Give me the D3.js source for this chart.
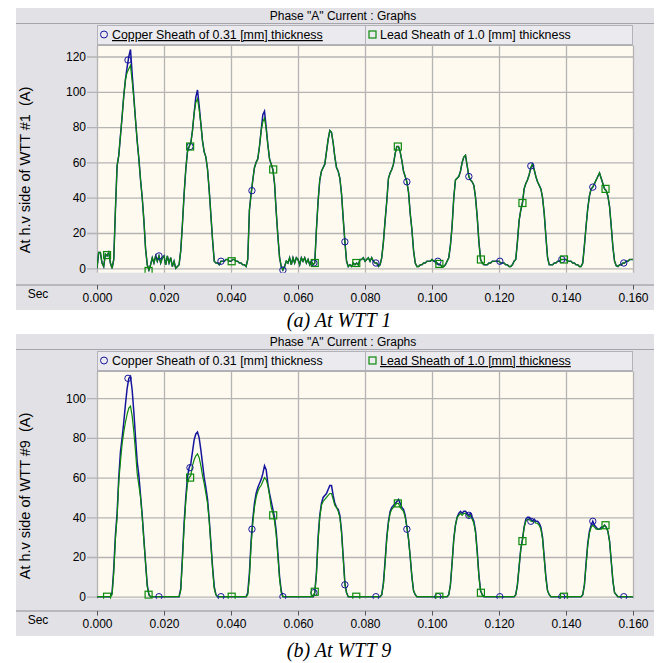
<!DOCTYPE html>
<html>
<head>
<meta charset="utf-8">
<script src="https://cdn.jsdelivr.net/npm/d3@7"></script>
<style>
  body { margin: 0; background: #fff; }
  svg { display: block; font-family: "Liberation Sans", Arial, sans-serif; }
</style>
</head>
<body>
<svg id="chart" width="659" height="663"></svg>
<script>
// recorder samples one point every 0.5 ms, from 0 to 0.160 s (321 points per trace)
const sampleStep = 0.0005;
const xTicks = [0, 0.02, 0.04, 0.06, 0.08, 0.10, 0.12, 0.14, 0.16];
const yTicksA = [0, 20, 40, 60, 80, 100, 120];
const yTicksB = [0, 20, 40, 60, 80, 100];
const seriesNames = ['Copper Sheath of 0.31 [mm] thickness', 'Lead Sheath of 1.0 [mm] thickness'];
const chartTitle = 'Phase "A" Current : Graphs';

// (a) at WTT 1, current in A
const copperA = [
  0, 9, 9, 3, 1, 8, 7, 9, 3, 0,
  5, 33, 58, 64, 75, 86, 98, 107, 114, 120, 124, 110, 97, 84, 72, 62, 50, 40, 27, 11, 2, -1,
  2, 6, 3, 7, 4, 7, 3, 6, 7, 2, 7, 3, 6, 1, 4, 0, 1,
  2, 10, 25, 42, 56, 66, 69, 71, 78, 88, 97, 101, 92, 82, 72, 66, 63, 56, 44, 30, 16, 4, 3,
  3, 2, 4, 4, 4, 5, 5, 4, 4, 5, 5, 4, 4, 3, 3, 2, 2, 1,
  5, 33, 42, 50, 57, 60, 62, 69, 78, 87, 89, 80, 70, 62, 59, 56, 48, 32, 18, 6, 1, -1,
  1, 4, 3, 6, 2, 6, 3, 6, 5, 2, 6, 4, 6, 3, 5, 2, 4, 2,
  3, 22, 38, 50, 55, 57, 59, 66, 73, 78, 77, 71, 63, 57, 55, 51, 42, 28, 15, 4, 1,
  2, 1, 3, 2, 3, 2, 5, 5, 6, 4, 5, 6, 4, 6, 4, 3, 3, 1, 2,
  6, 15, 27, 38, 51, 54, 56, 59, 65, 69, 69, 66, 61, 55, 52, 49, 43, 31, 22, 10, 3, 1,
  1, 2, 2, 3, 3, 4, 4, 4, 5, 4, 4, 3, 2, 2, 1, 1, 2, 4,
  6, 13, 24, 40, 50, 51, 52, 55, 60, 63, 64, 58, 52, 50, 49, 47, 40, 29, 15, 5, 3, 2,
  2, 2, 3, 3, 4, 4, 4, 4, 4, 3, 3, 3, 2, 2, 1, 1, 2, 4,
  5, 15, 27, 33, 37, 45, 48, 50, 53, 57, 59, 56, 52, 49, 47, 45, 40, 31, 18, 6, 2,
  2, 2, 3, 3, 4, 4, 5, 5, 5, 5, 4, 4, 4, 3, 3, 2, 2, 1, 1,
  3, 13, 24, 34, 41, 45, 46, 48, 50, 52, 54, 51, 48, 45, 44, 41, 35, 24, 12, 4, 1.5,
  1, 2, 2, 3, 3, 4, 4, 5, 5, 5
];
const leadA = [
  0, 9, 9, 3, 1, 8, 7, 9, 3, 0,
  5, 33, 58, 64, 75, 86, 98, 107, 111, 113, 115, 106, 96, 84, 72, 62, 50, 40, 27, 11, 2, -1,
  2, 6, 3, 7, 4, 7, 3, 6, 7, 2, 7, 3, 6, 1, 4, 0, 1,
  2, 10, 25, 42, 56, 66, 69, 71, 78, 88, 94, 96, 90, 82, 72, 66, 63, 56, 44, 30, 16, 4, 3,
  3, 2, 4, 4, 4, 5, 5, 4, 4, 5, 5, 4, 4, 3, 3, 2, 2, 1,
  5, 33, 42, 50, 57, 60, 62, 69, 78, 83, 85, 79, 70, 62, 59, 56, 48, 32, 18, 6, 1, -1,
  1, 4, 3, 6, 2, 6, 3, 6, 5, 2, 6, 4, 6, 3, 5, 2, 4, 2,
  3, 22, 38, 50, 55, 57, 59, 66, 73, 78, 77, 71, 63, 57, 55, 51, 42, 28, 15, 4, 1,
  2, 1, 3, 2, 3, 2, 5, 5, 6, 4, 5, 6, 4, 6, 4, 3, 3, 1, 2,
  6, 15, 27, 38, 51, 54, 56, 59, 65, 69, 69, 66, 61, 55, 52, 49, 43, 31, 22, 10, 3, 1,
  1, 2, 2, 3, 3, 4, 4, 4, 5, 4, 4, 3, 2, 2, 1, 1, 2, 4,
  6, 13, 24, 40, 50, 51, 52, 55, 60, 63, 64, 58, 52, 50, 49, 47, 40, 29, 15, 5, 3, 2,
  2, 2, 3, 3, 4, 4, 4, 4, 4, 3, 3, 3, 2, 2, 1, 1, 2, 4,
  5, 15, 27, 33, 37, 45, 48, 50, 53, 57, 59, 56, 52, 49, 47, 45, 40, 31, 18, 6, 2,
  2, 2, 3, 3, 4, 4, 5, 5, 5, 5, 4, 4, 4, 3, 3, 2, 2, 1, 1,
  3, 13, 24, 34, 41, 45, 46, 48, 50, 52, 54, 51, 48, 45, 44, 41, 35, 24, 12, 4, 1.5,
  1, 2, 2, 3, 3, 4, 4, 5, 5, 5
];

// (b) at WTT 9, current in A
const copperB = [
  0, 0, 0, 0, 0, 0, 0, 0, 0, 2,
  14, 31, 42, 60, 73, 80, 88, 97, 105, 110, 111, 104, 93, 80, 68, 61, 51, 41, 29, 17, 6, 1,
  0, 0, 0, 0, 0, 0, 0, 0, 0, 0, 0, 0, 0, 0, 0, 0, 0,
  0, 4, 20, 37, 50, 60, 65, 67, 73, 79, 82, 83, 80, 74, 67, 60, 55, 49, 39, 27, 15, 5, 1,
  0, 0, 0, 0, 0, 0, 0, 0, 0, 0, 0, 0, 0, 0, 0, 0, 0, 0,
  2, 12, 28, 39, 47, 52, 55, 57, 59, 62, 66, 64, 57, 52, 48, 44, 40, 33, 22, 10, 3, 0,
  0, 0, 0, 0, 0, 0, 0, 0, 0, 0, 0, 0, 0, 0, 0, 0, 0, 0,
  2, 12, 30, 41, 47, 50, 51, 52, 54, 56, 56, 51, 47, 45, 44, 41, 33, 20, 7, 2, 0,
  0, 0, 0, 0, 0, 0, 0, 0, 0, 0, 0, 0, 0, 0, 0, 0, 0, 0, 0,
  1, 7, 18, 30, 38, 43, 45, 46, 47, 48, 49, 47, 45, 44, 41, 35, 29, 20, 10, 3, 1, 0,
  0, 0, 0, 0, 0, 0, 0, 0, 0, 0, 0, 0, 0, 0, 0, 0, 0, 0,
  1, 6, 17, 29, 36, 40, 42, 43, 42, 43, 43, 42, 41, 42, 40, 38, 33, 23, 11, 3, 1, 0,
  0, 0, 0, 0, 0, 0, 0, 0, 0, 0, 0, 0, 0, 0, 0, 0, 0, 0,
  1, 6, 15, 24, 29, 35, 39, 40, 40, 39, 38, 39, 38, 38, 37, 35, 30, 20, 10, 3, 1,
  0, 0, 0, 0, 0, 0, 0, 0, 0, 0, 0, 0, 0, 0, 0, 0, 0, 0, 0,
  1, 6, 17, 27, 33, 36, 38, 36, 35, 34, 34, 35, 35, 36, 35, 33, 28, 18, 8, 2, 1,
  0, 0, 0, 0, 0, 0, 0, 0, 0, 0
];
const leadB = [
  0, 0, 0, 0, 0, 0, 0, 0, 0, 1,
  12, 29, 40, 58, 68, 77, 83, 88, 92, 95, 96, 91, 83, 73, 62, 56, 50, 40, 28, 17, 5, 1,
  0, 0, 0, 0, 0, 0, 0, 0, 0, 0, 0, 0, 0, 0, 0, 0, 0,
  0, 3, 18, 35, 48, 57, 60, 61, 66, 69, 71, 72, 70, 66, 61, 57, 52, 47, 38, 26, 14, 4, 1,
  0, 0, 0, 0, 0, 0, 0, 0, 0, 0, 0, 0, 0, 0, 0, 0, 0, 0,
  1, 10, 26, 37, 45, 50, 53, 55, 56, 58, 60, 59, 56, 51, 45, 42, 38, 31, 20, 9, 2, 0,
  0, 0, 0, 0, 0, 0, 0, 0, 0, 0, 0, 0, 0, 0, 0, 0, 0, 0,
  2, 11, 28, 40, 46, 48, 49, 50, 51, 52, 52, 49, 46, 45, 43, 40, 32, 19, 6, 2, 0,
  0, 0, 0, 0, 0, 0, 0, 0, 0, 0, 0, 0, 0, 0, 0, 0, 0, 0, 0,
  1, 6, 17, 29, 37, 42, 44, 45, 46, 47, 47, 45, 44, 43, 40, 35, 29, 20, 10, 3, 1, 0,
  0, 0, 0, 0, 0, 0, 0, 0, 0, 0, 0, 0, 0, 0, 0, 0, 0, 0,
  1, 6, 17, 29, 36, 40, 41, 42, 41, 42, 42, 41, 40, 41, 39, 37, 32, 22, 10, 3, 1, 0,
  0, 0, 0, 0, 0, 0, 0, 0, 0, 0, 0, 0, 0, 0, 0, 0, 0, 0,
  1, 6, 15, 24, 28, 35, 38, 39, 39, 38, 38, 38, 37, 37, 36, 34, 29, 19, 9, 3, 1,
  0, 0, 0, 0, 0, 0, 0, 0, 0, 0, 0, 0, 0, 0, 0, 0, 0, 0, 0,
  1, 6, 16, 26, 32, 35, 36, 35, 34, 34, 34, 34, 35, 36, 35, 33, 28, 18, 8, 2, 1,
  0, 0, 0, 0, 0, 0, 0, 0, 0, 0
];

// marker positions (time in s) and the values at them
const copperMarkT = [0.00925, 0.0185, 0.02775, 0.037, 0.04625, 0.0555, 0.06475, 0.074, 0.08325,
  0.0925, 0.10175, 0.111, 0.12025, 0.1295, 0.13875, 0.148, 0.15725];
const leadMarkT = [0.003, 0.0154, 0.0278, 0.0402, 0.0526, 0.065, 0.0774, 0.0898, 0.1022,
  0.1146, 0.127, 0.1394, 0.1518];
const copperMarkA = [118, 7, 69, 4, 44, -1, 3, 15, 3, 49, 4, 52, 4, 58, 5, 46, 3];
const leadMarkA = [7.5, -1.5, 69, 4, 56, 3, 3, 69, 2.5, 5, 37, 5, 45];
const copperMarkB = [110, 0, 65, 0, 34, 0, 2, 6, 0, 34, 0, 41, 0, 38, 0, 38, 0];
const leadMarkB = [0, 1, 60, 0, 41, 2.5, 0, 47, 0, 2, 28, 0, 36];

const blue = '#14149c';
const green = '#0b8a0b';
const svg = d3.select('#chart');

function drawPanel(cfg) {
  const left = 97, right = 633, plotTop = 45.5, plotBottom = 272.7;
  const g = svg.append('g').attr('transform', `translate(0,${cfg.top})`);

  // grey frame with title bar
  g.append('rect').attr('x', 16).attr('y', 8).attr('width', 638).attr('height', 302)
    .attr('fill', '#e1e1e6');
  g.append('line').attr('x1', 16).attr('x2', 654).attr('y1', 23.5).attr('y2', 23.5)
    .attr('stroke', '#a4a4aa');
  g.append('text').attr('x', 343).attr('y', 19.5).attr('text-anchor', 'middle')
    .attr('font-size', 12).text(chartTitle);

  // legend boxes
  const legendX = [97, 365, 632];
  seriesNames.forEach((name, i) => {
    g.append('rect').attr('x', legendX[i] + 0.5).attr('y', 25.5)
      .attr('width', legendX[i + 1] - legendX[i]).attr('height', 19)
      .attr('fill', '#ebebef').attr('stroke', '#b2b2b8');
    const t = g.append('text').attr('x', legendX[i] + 15).attr('y', 39)
      .attr('font-size', 12.4).text(name);
    if (cfg.underline === i) t.attr('text-decoration', 'underline');
  });
  g.append('circle').attr('cx', 104).attr('cy', 34.5).attr('r', 3.5)
    .attr('fill', 'none').attr('stroke', blue);
  g.append('rect').attr('x', 369).attr('y', 31).attr('width', 7).attr('height', 7)
    .attr('fill', 'none').attr('stroke', green).attr('stroke-width', 1.2);

  // scales
  const x = d3.scaleLinear().domain([0, 0.16]).range([left, right]);
  const y = d3.scaleLinear().domain([0, cfg.yRef]).range(cfg.yRange);

  // plot area
  g.append('rect').attr('x', left).attr('y', plotTop)
    .attr('width', right - left).attr('height', plotBottom - plotTop)
    .attr('fill', '#fffaef');
  g.append('line').attr('x1', left).attr('x2', right).attr('y1', plotTop).attr('y2', plotTop)
    .attr('stroke', '#b0b0b0');

  // grid
  g.append('g').attr('transform', `translate(0,${plotBottom})`)
    .call(d3.axisBottom(x).tickValues(xTicks).tickSize(-(plotBottom - plotTop)).tickFormat(''))
    .call(a => a.select('.domain').remove())
    .call(a => a.selectAll('line').attr('stroke', '#b4b4b4').attr('stroke-width', 1.3));
  g.append('g').attr('transform', `translate(${left},0)`)
    .call(d3.axisLeft(y).tickValues(cfg.yTicks).tickSize(10).tickPadding(1))
    .call(a => a.select('.domain').remove())
    .call(a => a.selectAll('line').attr('stroke', '#b4b4b4').attr('stroke-width', 1.3)
      .attr('x2', right - left).attr('x1', -10))
    .call(a => a.selectAll('text').attr('font-size', 12).attr('fill', '#000')
      .attr('font-family', '"Liberation Sans", Arial, sans-serif'));

  // y label
  g.append('text').attr('transform', 'translate(30,170) rotate(-90)')
    .attr('text-anchor', 'middle').attr('font-size', 14.5)
    .style('white-space', 'pre').text(cfg.yLabel);

  // x axis strip
  g.append('line').attr('x1', 16).attr('x2', 654).attr('y1', 285).attr('y2', 285)
    .attr('stroke', '#8e8e94');
  g.append('g').attr('transform', 'translate(0,285)')
    .call(d3.axisBottom(x).tickValues(xTicks).tickSize(4.5).tickPadding(4).tickFormat(d3.format('.3f')))
    .call(a => a.select('.domain').remove())
    .call(a => a.selectAll('line').attr('stroke', '#55555a'))
    .call(a => a.selectAll('text').attr('font-size', 12).attr('fill', '#000')
      .attr('font-family', '"Liberation Sans", Arial, sans-serif'));
  g.append('text').attr('x', 38).attr('y', 298).attr('text-anchor', 'middle')
    .attr('font-size', 12).text('Sec');

  // traces
  g.append('clipPath').attr('id', cfg.id).append('rect')
    .attr('x', left).attr('y', plotTop).attr('width', right - left).attr('height', plotBottom - plotTop);
  const plot = g.append('g').attr('clip-path', `url(#${cfg.id})`);
  const line = d3.line().x((d, i) => x(i * sampleStep)).y(d => y(d));

  plot.append('path').datum(cfg.copper).attr('d', line)
    .attr('fill', 'none').attr('stroke', blue).attr('stroke-width', 1.5);
  plot.append('path').datum(cfg.lead).attr('d', line)
    .attr('fill', 'none').attr('stroke', green).attr('stroke-width', 1.2);

  plot.selectAll('.cu').data(copperMarkT).enter().append('circle')
    .attr('cx', d => x(d)).attr('cy', (d, i) => y(cfg.copperMarks[i])).attr('r', 3.2)
    .attr('fill', 'none').attr('stroke', blue);
  plot.selectAll('.pb').data(leadMarkT).enter().append('rect')
    .attr('x', d => x(d) - 3.5).attr('y', (d, i) => y(cfg.leadMarks[i]) - 3.5)
    .attr('width', 7).attr('height', 7)
    .attr('fill', 'none').attr('stroke', green).attr('stroke-width', 1.2);

  // caption below the panel
  g.append('text').attr('x', 339).attr('y', cfg.captionY).attr('text-anchor', 'middle')
    .attr('font-family', '"Liberation Serif", "Times New Roman", serif')
    .attr('font-style', 'italic').attr('font-size', 20).text(cfg.caption);
}

drawPanel({
  id: 'clipA', top: 0, yRef: 120, yRange: [268.3, 56.5], yTicks: yTicksA,
  yLabel: 'At h.v side of WTT #1  (A)', copper: copperA, lead: leadA,
  copperMarks: copperMarkA, leadMarks: leadMarkA, underline: 0,
  caption: '(a) At WTT 1', captionY: 327
});
drawPanel({
  id: 'clipB', top: 326, yRef: 100, yRange: [270.7, 72.2], yTicks: yTicksB,
  yLabel: 'At h.v side of WTT #9  (A)', copper: copperB, lead: leadB,
  copperMarks: copperMarkB, leadMarks: leadMarkB, underline: 1,
  caption: '(b) At WTT 9', captionY: 331
});
</script>
</body>
</html>
